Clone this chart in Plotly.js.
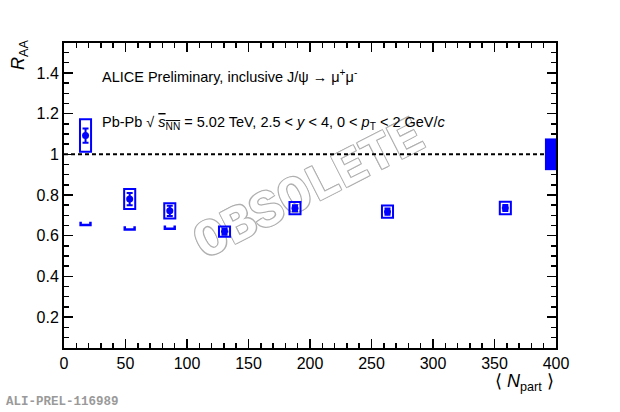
<!DOCTYPE html>
<html>
<head>
<meta charset="utf-8">
<script src="https://cdn.plot.ly/plotly-3.0.1.min.js"></script>
<style>
html,body{margin:0;padding:0;background:#fff;}
#wrap{position:relative;width:620px;height:412px;}
#wm,#chart{position:absolute;left:0;top:0;width:620px;height:412px;}
</style>
</head>
<body>
<div id="wrap"><div id="wm"></div><div id="chart"></div></div>
<script>
// ---- data ----
const npart   = [17.5, 53.4, 86, 130.5, 187.8, 263, 358.8];
const raa     = [1.092, 0.78, 0.722, 0.62, 0.735, 0.718, 0.736];
const statErr = [0.035, 0.03, 0.025, 0.015, 0.015, 0.015, 0.015];
const sysErr  = [0.08, 0.049, 0.037, 0.025, 0.03, 0.03, 0.031];
const bracketX = [17.5, 53.4, 86];
const bracketY = [0.66, 0.638, 0.642];
const globalUnc = 0.078;
const xTickVals = [0, 50, 100, 150, 200, 250, 300, 350, 400];
const yTickVals = [0.2, 0.4, 0.6, 0.8, 1, 1.2, 1.4];

// ---- style ----
const BLUE = '#0000ff';
const boxHalfW = 4.5;
const bracketHalfH = 0.008;
const globalW = 9;
const FONT = 'Liberation Sans, Arial, Helvetica, sans-serif';
const MONO = 'Liberation Mono, Courier New, monospace';

// watermark layer (underneath the data)
Plotly.newPlot('wm', [], {
  width:620, height:412, margin:{l:64, r:64, t:43, b:64},
  paper_bgcolor:'#fff', plot_bgcolor:'#fff',
  xaxis:{visible:false}, yaxis:{visible:false},
  annotations:[{xref:'paper', yref:'paper', x:0.5, y:0.515, xanchor:'center', yanchor:'middle',
     text:'<b>OBSOLETE</b>', textangle:-27, showarrow:false,
     font:{family:MONO, size:52, color:'#ffffff',
       shadow:'1px 1px 0 #b0b0b0, -1px -1px 0 #b0b0b0, 1px -1px 0 #b0b0b0, -1px 1px 0 #b0b0b0'}}]
}, {staticPlot:true, displayModeBar:false});

const shapes = [];
shapes.push({type:'line', xref:'x', yref:'y', x0:0, x1:400-globalW, y0:1, y1:1,
  line:{color:'#000', width:2, dash:'4px,3px'}});
shapes.push({type:'rect', xref:'x', yref:'y', x0:400-globalW, x1:400, y0:1-globalUnc, y1:1+globalUnc,
  fillcolor:BLUE, line:{width:0}});
npart.forEach((x,i)=>{
  shapes.push({type:'rect', xref:'x', yref:'y', x0:x-boxHalfW, x1:x+boxHalfW,
    y0:raa[i]-sysErr[i], y1:raa[i]+sysErr[i], line:{color:BLUE, width:2}, fillcolor:'rgba(0,0,0,0)'});
});
bracketX.forEach((x,i)=>{
  const x0=x-boxHalfW+0.5, x1=x+boxHalfW-0.5, yb=bracketY[i]-bracketHalfH, yt=bracketY[i]+bracketHalfH;
  shapes.push({type:'path', xref:'x', yref:'y',
    path:`M ${x0},${yt} L ${x0},${yb} L ${x1},${yb} L ${x1},${yt}`,
    line:{color:BLUE, width:2.5}});
});

const traces = [{
  type:'scatter', mode:'markers', x:npart, y:raa,
  marker:{color:BLUE, size:7, symbol:'circle'},
  error_y:{type:'data', array:statErr, visible:true, color:BLUE, thickness:2, width:3},
  hoverinfo:'skip', showlegend:false
}];

const axisCommon = {
  showline:true, mirror:'ticks', linecolor:'#000', linewidth:2,
  ticks:'inside', tickcolor:'#000', tickwidth:1.5, ticklen:9,
  showgrid:false, zeroline:false,
  tickfont:{family:FONT, size:16, color:'#000'}
};

const layout = {
  width:620, height:412,
  margin:{l:64, r:64, t:43, b:64},
  paper_bgcolor:'rgba(0,0,0,0)', plot_bgcolor:'rgba(0,0,0,0)',
  showlegend:false,
  xaxis:Object.assign({}, axisCommon, {range:[0,400], tickvals:xTickVals, ticktext:xTickVals.map(String),
    minor:{dtick:10, tick0:0, ticks:'inside', ticklen:5, tickwidth:1.5, tickcolor:'#000'}}),
  yaxis:Object.assign({}, axisCommon, {range:[0.048,1.547], tickvals:yTickVals, ticktext:yTickVals.map(String),
    minor:{dtick:0.05, tick0:0, ticks:'inside', ticklen:5, tickwidth:1.5, tickcolor:'#000'}}),
  shapes:shapes,
  annotations:[
    {xref:'paper', yref:'paper', x:(100-64)/492, y:(348-76)/305, xanchor:'left', yanchor:'middle',
     text:'ALICE Preliminary, inclusive J/ψ → μ<sup>+</sup>μ<sup>-</sup>', showarrow:false,
     font:{family:FONT, size:14.5, color:'#000'}},
    {xref:'paper', yref:'paper', x:(100-64)/492, y:(348-123)/305, xanchor:'left', yanchor:'middle',
     text:'Pb-Pb √ <span style="text-decoration:overline"><i>s</i><sub>NN</sub></span> = 5.02 TeV, 2.5 &lt; <i>y</i> &lt; 4, 0 &lt; <i>p</i><sub>T</sub> &lt; 2 GeV/<i>c</i>', showarrow:false,
     font:{family:FONT, size:14.5, color:'#000'}},
    {xref:'paper', yref:'paper', x:-44/492, y:1-(55-43)/305, xanchor:'center', yanchor:'middle',
     text:'<i>R</i><sub>AA</sub>', textangle:-90, showarrow:false,
     font:{family:FONT, size:18, color:'#000'}},
    {xref:'paper', yref:'paper', x:1, y:-(383-348)/305, xanchor:'right', yanchor:'middle',
     text:'⟨ <i>N</i><sub>part</sub> ⟩', showarrow:false,
     font:{family:FONT, size:18, color:'#000'}},
    {xref:'paper', yref:'paper', x:-60/492, y:-(402-348)/305, xanchor:'left', yanchor:'middle',
     text:'<b>ALI-PREL-116989</b>', showarrow:false,
     font:{family:MONO, size:12.5, color:'#9a9a9a'}}
  ]
};

Plotly.newPlot('chart', traces, layout, {staticPlot:true, displayModeBar:false});
</script>
</body>
</html>
